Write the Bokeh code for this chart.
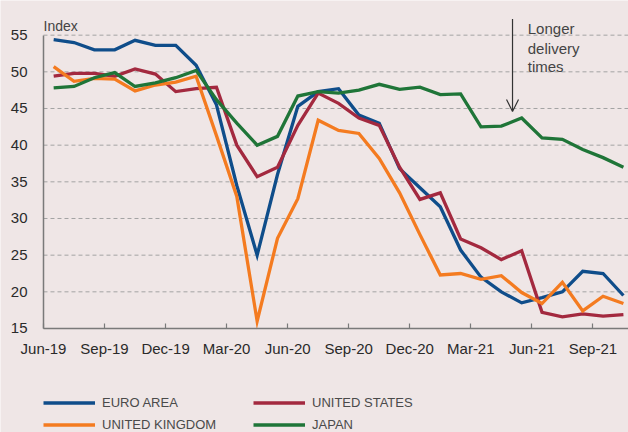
from bokeh.plotting import figure
from bokeh.models import (Range1d, FixedTicker, Label, Arrow, OpenHead,
                          Legend, LegendItem, ColumnDataSource)
from bokeh.embed import file_html
from bokeh.resources import INLINE

# ---------------- data ----------------
months = ["Jun-19", "Jul-19", "Aug-19", "Sep-19", "Oct-19", "Nov-19", "Dec-19",
          "Jan-20", "Feb-20", "Mar-20", "Apr-20", "May-20", "Jun-20", "Jul-20",
          "Aug-20", "Sep-20", "Oct-20", "Nov-20", "Dec-20", "Jan-21", "Feb-21",
          "Mar-21", "Apr-21", "May-21", "Jun-21", "Jul-21", "Aug-21", "Sep-21",
          "Oct-21"]

euro_area = [54.4, 54.0, 53.0, 53.0, 54.3, 53.6, 53.6, 50.9, 45.5, 34.5,
             25.0, 36.0, 45.3, 47.3, 47.7, 44.1, 43.0, 36.8, 34.2, 31.6,
             25.7, 22.0, 20.0, 18.5, 19.2, 20.0, 22.8, 22.5, 19.5]
united_states = [49.4, 49.8, 49.8, 49.4, 50.4, 49.7, 47.3, 47.7, 47.9, 40.0,
                 35.7, 37.0, 42.7, 47.1, 45.7, 43.7, 42.7, 37.0, 32.6, 33.5,
                 27.2, 26.0, 24.4, 25.6, 17.2, 16.6, 17.0, 16.7, 16.9]
united_kingdom = [50.7, 48.7, 49.1, 49.0, 47.4, 48.2, 48.6, 49.4, 41.3, 33.0,
                  16.0, 27.3, 32.7, 43.4, 42.0, 41.6, 38.2, 33.5, 27.8, 22.3,
                  22.5, 21.7, 22.2, 19.9, 18.4, 21.3, 17.4, 19.4, 18.4]
japan = [47.8, 48.0, 49.2, 49.9, 48.0, 48.5, 49.2, 50.2, 46.2, 43.0,
         40.0, 41.2, 46.7, 47.3, 47.1, 47.5, 48.3, 47.6, 47.9, 46.9,
         47.0, 42.5, 42.6, 43.7, 41.0, 40.8, 39.4, 38.3, 37.0]

series_names = ["EURO AREA", "UNITED STATES", "UNITED KINGDOM", "JAPAN"]
series_colors = ["#0f4d8a", "#a3293f", "#f47b20", "#1f7538"]

tick_labels = ["Jun-19", "Sep-19", "Dec-19", "Mar-20", "Jun-20", "Sep-20",
               "Dec-20", "Mar-21", "Jun-21", "Sep-21"]
y_ticks = [15, 20, 25, 30, 35, 40, 45, 50, 55]

# ---------------- figure ----------------
bg = "#efe6e6"
FONT = "Liberation Sans"
x = [i + 0.5 for i in range(len(months))]
src = ColumnDataSource(dict(x=x, ea=euro_area, us=united_states,
                            uk=united_kingdom, jp=japan))

X_START, X_END = -2.113, 28.75
# frame fills the whole figure; axes are placed inside it
p = figure(width=628, height=432,
           x_range=Range1d(X_START, X_END), y_range=Range1d(0.818, 59.727),
           output_backend="svg", toolbar_location=None,
           min_border_left=0, min_border_right=0,
           min_border_top=0, min_border_bottom=0,
           background_fill_color=bg, border_fill_color=bg,
           outline_line_color=None)

tick_pos = [months.index(t) for t in tick_labels]

# gridlines (dashed, from the y axis to the right edge)
grid_vals = y_ticks[1:]
p.segment(x0=[tick_pos[0]] * len(grid_vals), x1=[X_END] * len(grid_vals),
          y0=grid_vals, y1=grid_vals, line_color="#a3a3a3",
          line_dash="4 3", line_width=1)
p.xgrid.visible = False
p.ygrid.visible = False

# axes
p.yaxis.fixed_location = tick_pos[0]
p.yaxis.ticker = FixedTicker(ticks=y_ticks)
p.yaxis.bounds = (15, 55)
p.yaxis.major_tick_in = 0
p.yaxis.major_tick_out = 0
p.yaxis.minor_tick_line_color = None
p.yaxis.axis_line_color = "#7a7a7a"
p.yaxis.axis_line_width = 1.5
p.yaxis.major_label_text_font = FONT
p.yaxis.major_label_text_font_size = "15px"
p.yaxis.major_label_text_color = "#2a2a2a"
p.yaxis.major_label_standoff = 16

p.xaxis.fixed_location = 15
p.xaxis.bounds = (tick_pos[0], X_END)
p.xaxis.ticker = FixedTicker(ticks=tick_pos)
p.xaxis.major_label_overrides = {tp: lab for tp, lab in zip(tick_pos, tick_labels)}
p.xaxis.major_tick_in = 5
p.xaxis.major_tick_out = 0
p.xaxis.major_tick_line_color = "#7a7a7a"
p.xaxis.major_tick_line_width = 1.2
p.xaxis.minor_tick_line_color = None
p.xaxis.axis_line_color = "#7a7a7a"
p.xaxis.axis_line_width = 1.5
p.xaxis.major_label_text_font = FONT
p.xaxis.major_label_text_font_size = "15px"
p.xaxis.major_label_text_color = "#2a2a2a"
p.xaxis.major_label_standoff = 12

# lines
renderers = []
for col, name, color in zip(["ea", "us", "uk", "jp"], series_names, series_colors):
    r = p.line("x", col, source=src, line_color=color, line_width=3.3,
               line_join="miter")
    renderers.append(r)

# axis unit label
p.add_layout(Label(x=tick_pos[0], y=56.25, text="Index", text_font=FONT,
                   text_font_size="14px", text_color="#444444",
                   text_baseline="alphabetic", text_align="left"))

# annotation
p.add_layout(Arrow(end=OpenHead(size=12, line_color="#333333", line_width=1.2),
                   x_start=23.05, y_start=57.2, x_end=23.05, y_end=44.6,
                   line_color="#333333", line_width=1.2))
for txt, yy in zip(["Longer", "delivery", "times"], [55.95, 53.2, 50.7]):
    p.add_layout(Label(x=23.8, y=yy, text=txt, text_font=FONT,
                       text_font_size="15px", text_color="#444444",
                       text_baseline="alphabetic", text_align="left"))

# legend
legend = Legend(items=[LegendItem(label=n, renderers=[r])
                       for n, r in zip(series_names, renderers)],
                orientation="horizontal", nrows=2,
                location=(43, 0), padding=0, margin=0, spacing=7,
                glyph_width=52, glyph_height=15, label_standoff=7,
                label_width=144, label_height=15,
                label_text_font=FONT,
                label_text_font_size="13px", label_text_color="#4a4a4a",
                background_fill_alpha=0, border_line_color=None)
p.add_layout(legend, "center")

open("out.html", "w").write(file_html(p, INLINE))
